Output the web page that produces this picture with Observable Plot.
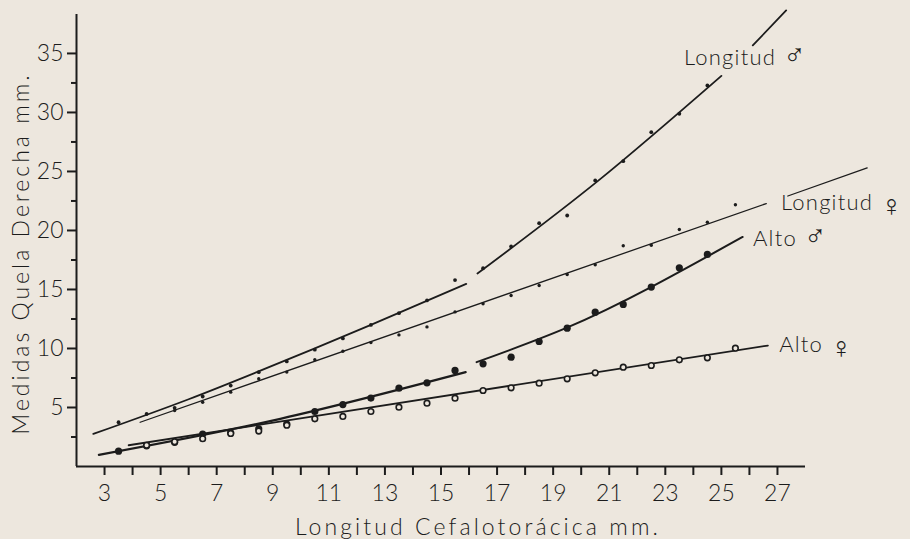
<!DOCTYPE html>
<html><head><meta charset="utf-8">
<script src="https://cdn.jsdelivr.net/npm/d3@7"></script>
<script src="https://cdn.jsdelivr.net/npm/@observablehq/plot@0.6"></script>
<style>
html,body{margin:0;padding:0;background:#ede7de;}
#chart svg{display:block;}
</style></head><body><div id="chart"></div>
<script>
// ---- tick labels ----
const xTicks = [3,5,7,9,11,13,15,17,19,21,23,25,27];
const xMinorTicks = [4,6,8,10,12,14,16,18,20,22,24,26];
const yTicks = [5,10,15,20,25,30,35];
const yMinorTicks = [2.5,7.5,12.5,17.5,22.5,27.5,32.5];
const xTitle = "Longitud Cefalotorácica mm.";
const yTitle = "Medidas Quela Derecha mm.";

// ---- observed points ----
const longMachoX1 = [3.5,4.5,5.5,6.5,7.5,8.5,9.5,10.5,11.5,12.5,13.5,14.5,15.5];
const longMachoY1 = [3.75,4.45,4.97,5.93,6.86,7.99,8.9,9.9,10.85,12.0,12.99,14.07,15.8];
const longMachoX2 = [16.5,17.5,18.5,19.5,20.5,21.5,22.5,23.5,24.5];
const longMachoY2 = [16.8,18.64,20.62,21.27,24.24,25.87,28.33,29.89,32.29];

const longHembraX = [5.5,6.5,7.5,8.5,9.5,10.5,11.5,12.5,13.5,14.5,15.5,16.5,17.5,18.5,19.5,20.5,21.5,22.5,23.5,24.5,25.5];
const longHembraY = [4.75,5.45,6.3,7.43,8.0,9.04,9.77,10.5,11.15,11.83,13.1,13.79,14.49,15.34,16.27,17.09,18.7,18.75,20.08,20.7,22.18];

const altoMachoX1 = [3.5,4.5,5.5,6.5,7.5,8.5,9.5,10.5,11.5,12.5,13.5,14.5,15.5];
const altoMachoY1 = [1.3,1.75,2.05,2.75,2.85,3.2,3.6,4.66,5.25,5.8,6.64,7.09,8.14];
const altoMachoX2 = [16.5,17.5,18.5,19.5,20.5,21.5,22.5,23.5,24.5];
const altoMachoY2 = [8.7,9.26,10.59,11.72,13.08,13.73,15.2,16.84,17.97];

const altoHembraX = [4.5,5.5,6.5,7.5,8.5,9.5,10.5,11.5,12.5,13.5,14.5,15.5,16.5,17.5,18.5,19.5,20.5,21.5,22.5,23.5,24.5,25.5];
const altoHembraY = [1.8,2.1,2.35,2.8,3.0,3.5,4.04,4.24,4.66,5.03,5.37,5.79,6.44,6.67,7.06,7.43,7.94,8.42,8.56,9.04,9.21,10.03];

// ---- fitted curves ----
const fitLongMachoAX = [2.6,6,9.3,12.5,15.9];
const fitLongMachoAY = [2.76,5.7,8.84,12.0,15.48];
const fitLongMachoBX = [16.3,20.6,25.0];
const fitLongMachoBY = [16.35,24.2,33.1];
const fitLongMachoCX = [26.12,27.31];
const fitLongMachoCY = [35.68,38.64];
const fitLongHembraAX = [4.27,26.6];
const fitLongHembraAY = [3.75,22.28];
const fitLongHembraBX = [27.37,30.2];
const fitLongHembraBY = [22.92,25.3];
const fitAltoMachoAX = [2.8,9.27,15.88];
const fitAltoMachoAY = [0.99,4.04,7.99];
const fitAltoMachoBX = [16.27,19.45,22.49,25.76];
const fitAltoMachoBY = [8.84,11.72,15.2,19.45];
const fitAltoHembraX = [3.86,26.66];
const fitAltoHembraY = [1.8,10.25];

// ---- series labels ----
const labelWord = ["Longitud", "Longitud", "Alto", "Alto"];
const labelSymbol = ["\u2642", "\u2640", "\u2642", "\u2640"];
const labelX = [23.67, 27.13, 26.13, 27.06];
const labelY = [34.66, 22.37, 19.24, 10.3];

const pts = (xs, ys) => xs.map((x, i) => ({x, y: ys[i]}));
const labels = labelWord.map((w, i) => ({t: w + " " + labelSymbol[i], x: labelX[i], y: labelY[i]}));

const ink = "#1c1c1c";
const font = "Lato, 'Open Sans', sans-serif";

const lineOpts = (w, curve) => ({x: "x", y: "y", stroke: ink, strokeWidth: w, curve});

const plot = Plot.plot({
  width: 910, height: 539,
  marginLeft: 76, marginRight: 105, marginTop: 14, marginBottom: 73,
  style: {background: "#ede7de", fontFamily: font, fontSize: "23px", color: ink, fontWeight: 300},
  x: {domain: [2, 28], axis: null},
  y: {domain: [0, 38.3], axis: null},
  marks: [
    Plot.ruleY([0], {stroke: ink, strokeWidth: 2}),
    Plot.ruleX([2], {stroke: ink, strokeWidth: 2}),
    Plot.axisX(xTicks, {label: null, tickSize: 9, tickPadding: 9, strokeWidth: 2, stroke: ink, fill: ink}),
    Plot.axisX(xMinorTicks, {label: null, tickSize: 9, tickFormat: () => "", strokeWidth: 2, stroke: ink}),
    Plot.axisY(yTicks, {label: null, tickSize: 9, tickPadding: 4, strokeWidth: 2, stroke: ink, fill: ink}),
    Plot.axisY(yMinorTicks, {label: null, tickSize: 5, tickFormat: () => "", strokeWidth: 2, stroke: ink}),
    Plot.text([xTitle], {frameAnchor: "bottom", textAnchor: "middle", lineAnchor: "middle", dx: 37, dy: 61, fill: ink}),
    Plot.text([yTitle], {frameAnchor: "left", textAnchor: "middle", lineAnchor: "middle", rotate: -90, dx: -55, dy: 13, fill: ink}),

    Plot.line(pts(fitLongMachoAX, fitLongMachoAY), lineOpts(1.8, "natural")),
    Plot.line(pts(fitLongMachoBX, fitLongMachoBY), lineOpts(1.8, "natural")),
    Plot.line(pts(fitLongMachoCX, fitLongMachoCY), lineOpts(1.8, "linear")),
    Plot.line(pts(fitLongHembraAX, fitLongHembraAY), lineOpts(1.3, "linear")),
    Plot.line(pts(fitLongHembraBX, fitLongHembraBY), lineOpts(1.3, "linear")),
    Plot.line(pts(fitAltoMachoAX, fitAltoMachoAY), lineOpts(2.3, "natural")),
    Plot.line(pts(fitAltoMachoBX, fitAltoMachoBY), lineOpts(2.0, "natural")),
    Plot.line(pts(fitAltoHembraX, fitAltoHembraY), lineOpts(1.8, "linear")),

    Plot.dot(pts(longMachoX1, longMachoY1), {x: "x", y: "y", r: 1.9, fill: ink}),
    Plot.dot(pts(longMachoX2, longMachoY2), {x: "x", y: "y", r: 1.9, fill: ink}),
    Plot.dot(pts(longHembraX, longHembraY), {x: "x", y: "y", r: 1.7, fill: ink}),
    Plot.dot(pts(altoMachoX1, altoMachoY1), {x: "x", y: "y", r: 3.6, fill: ink}),
    Plot.dot(pts(altoMachoX2, altoMachoY2), {x: "x", y: "y", r: 3.6, fill: ink}),
    Plot.dot(pts(altoHembraX, altoHembraY), {x: "x", y: "y", r: 2.8, fill: "#ede7de", stroke: ink, strokeWidth: 1.6}),

    Plot.text(labels, {x: "x", y: "y", text: "t", textAnchor: "start", fill: ink, fontSize: 22})
  ]
});
document.getElementById("chart").appendChild(plot);
const labelSet = labels.map(d => d.t);
plot.querySelectorAll("text").forEach(t => {
  const s = t.textContent;
  if (s === xTitle) t.setAttribute("letter-spacing", "3.1");
  else if (s === yTitle) t.setAttribute("letter-spacing", "3");
  else if (labelSet.includes(s)) {
    const i = labelSet.indexOf(s);
    t.setAttribute("letter-spacing", "1.2");
    t.textContent = "";
    const ns = "http://www.w3.org/2000/svg";
    const a = document.createElementNS(ns, "tspan");
    a.textContent = labelWord[i] + " ";
    const b = document.createElementNS(ns, "tspan");
    b.textContent = labelSymbol[i];
    b.setAttribute("font-size", "30");
    b.setAttribute("font-family", "'DejaVu Sans', sans-serif");
    b.setAttribute("font-weight", "200");
    if (labelSymbol[i] === "\u2640") b.setAttribute("dy", "6");
    t.appendChild(a); t.appendChild(b);
  }
});
</script></body></html>
